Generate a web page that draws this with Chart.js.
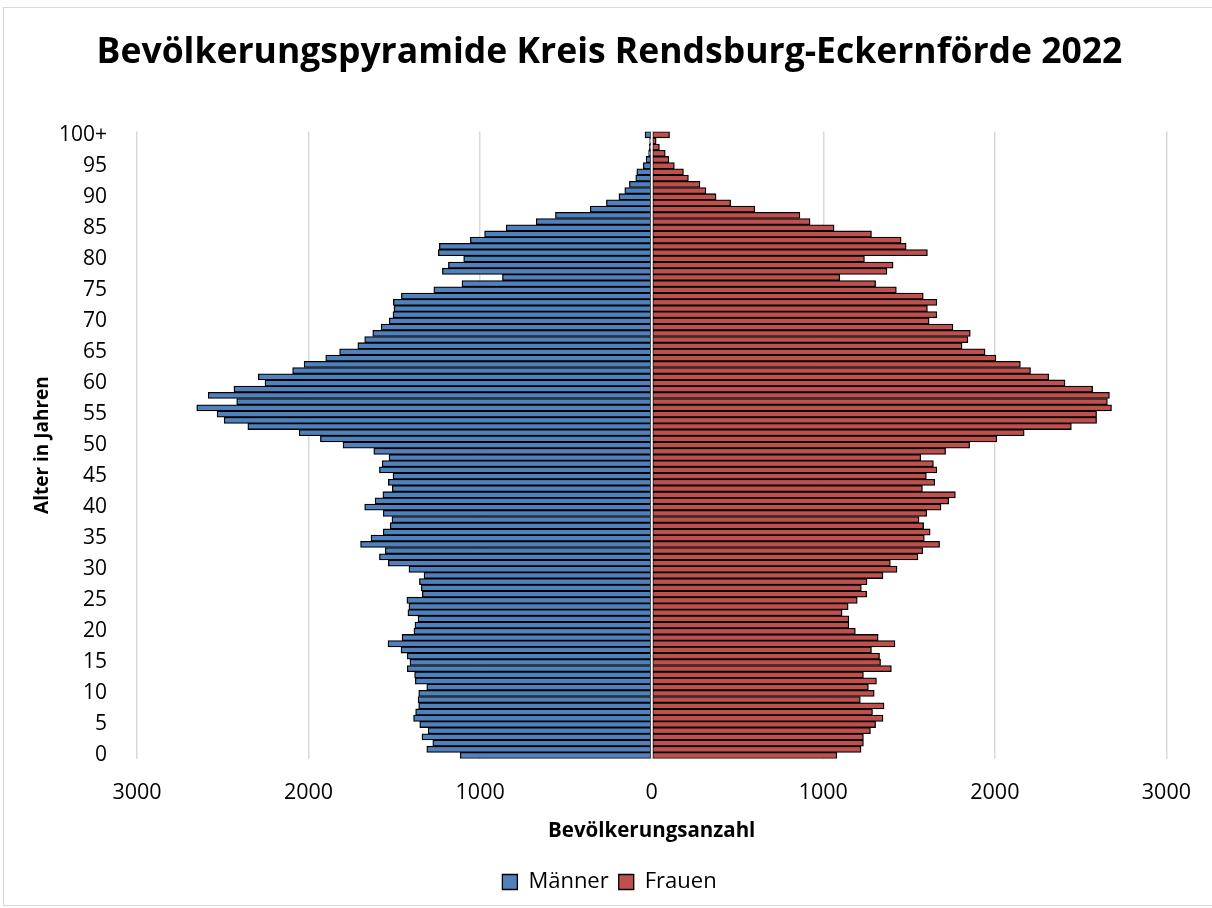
<!DOCTYPE html>
<html lang="de">
<head>
<meta charset="utf-8">
<title>Bevölkerungspyramide Kreis Rendsburg-Eckernförde 2022</title>
<script src="https://cdn.jsdelivr.net/npm/chart.js@4.4.1/dist/chart.umd.min.js"></script>
<style>
  html, body { margin: 0; padding: 0; background: #fff; }
  #wrap { position: relative; width: 1212px; height: 908px; overflow: hidden; }
  #frame { position: absolute; left: 3px; top: 7px; width: 1220px; height: 897px;
           border: 1.5px solid #d9d9d9; pointer-events: none; }
  canvas { position: absolute; left: 0; top: 0; }
</style>
</head>
<body>
<div id="wrap">
  <div id="frame"></div>
  <canvas id="pyramid" width="1212" height="908"></canvas>
</div>
<script>
// Altersgruppen 0 .. 99 und 100+
const ages = Array.from({ length: 100 }, (_, i) => String(i)).concat(["100+"]);

// Männer, Alter 0 bis 100+
const maenner = [
  1116, 1311, 1276, 1339, 1303, 1352, 1388, 1376, 1358, 1362,
  1358, 1311, 1378, 1382, 1425, 1409, 1425, 1461, 1537, 1455,
  1386, 1380, 1362, 1421, 1415, 1427, 1337, 1343, 1354, 1327,
  1415, 1535, 1587, 1553, 1697, 1636, 1565, 1524, 1514, 1565,
  1673, 1612, 1567, 1512, 1535, 1508, 1587, 1571, 1531, 1620,
  1799, 1931, 2055, 2354, 2492, 2533, 2652, 2419, 2585, 2435,
  2254, 2293, 2093, 2026, 1900, 1819, 1713, 1673, 1626, 1577,
  1530, 1508, 1502, 1506, 1459, 1270, 1106, 870, 1220, 1185,
  1096, 1244, 1238, 1057, 974, 848, 673, 561, 358, 264,
  191, 157, 130, 93, 87, 49, 33, 18, 14, 12,
  39
];

// Frauen, Alter 0 bis 100+
const frauen = [
  1079, 1220, 1234, 1234, 1275, 1305, 1348, 1287, 1354, 1216,
  1297, 1263, 1310, 1234, 1397, 1334, 1328, 1281, 1418, 1320,
  1187, 1149, 1149, 1110, 1145, 1198, 1253, 1222, 1255, 1348,
  1430, 1391, 1552, 1580, 1678, 1589, 1623, 1585, 1558, 1603,
  1686, 1731, 1770, 1578, 1650, 1601, 1662, 1642, 1568, 1713,
  1853, 2012, 2171, 2446, 2593, 2593, 2680, 2656, 2668, 2570,
  2409, 2314, 2208, 2149, 2006, 1943, 1809, 1843, 1857, 1756,
  1617, 1662, 1607, 1662, 1583, 1426, 1305, 1096, 1371, 1407,
  1240, 1607, 1483, 1454, 1281, 1063, 923, 864, 601, 460,
  375, 316, 281, 214, 185, 132, 100, 79, 45, 26,
  104
];

const xTicks = [-3000, -2000, -1000, 0, 1000, 2000, 3000];

const FONT = "'Open Sans', 'Noto Sans', sans-serif";

// weisse Linie bei 0 über den Balken
const zeroLine = {
  id: "zeroLine",
  afterDatasetsDraw(chart) {
    const { ctx, chartArea, scales } = chart;
    const x = scales.x.getPixelForValue(0);
    ctx.save();
    ctx.strokeStyle = "#ffffff";
    ctx.lineWidth = 2;
    ctx.beginPath();
    ctx.moveTo(x, chartArea.top);
    ctx.lineTo(x, chartArea.bottom);
    ctx.stroke();
    ctx.restore();
  }
};

new Chart(document.getElementById("pyramid"), {
  type: "bar",
  data: {
    labels: ages,
    datasets: [
      {
        label: "Männer",
        data: maenner.map(v => -v),
        backgroundColor: "#4f81bd",
        borderColor: "#000000",
        borderWidth: 1.3,
        borderSkipped: false,
        barPercentage: 1,
        categoryPercentage: 1
      },
      {
        label: "Frauen",
        data: frauen,
        backgroundColor: "#c0504d",
        borderColor: "#000000",
        borderWidth: 1.3,
        borderSkipped: false,
        barPercentage: 1,
        categoryPercentage: 1
      }
    ]
  },
  options: {
    indexAxis: "y",
    responsive: false,
    animation: false,
    layout: { padding: { left: 24, right: 17, top: 0, bottom: 5 } },
    plugins: {
      title: {
        display: true,
        text: "Bevölkerungspyramide Kreis Rendsburg-Eckernförde 2022",
        color: "#000",
        font: { family: FONT, size: 35.5, weight: "bold" },
        padding: { top: 32, bottom: 57 }
      },
      legend: {
        position: "bottom",
        labels: {
          color: "#000",
          font: { family: FONT, size: 22 },
          boxWidth: 15,
          boxHeight: 15,
          padding: 10
        }
      },
      tooltip: { enabled: false }
    },
    scales: {
      x: {
        stacked: true,
        min: -3000,
        max: 3000,
        afterBuildTicks: (scale) => { scale.ticks = xTicks.map(v => ({ value: v })); },
        ticks: {
          color: "#000",
          font: { family: FONT, size: 21.5 },
          padding: 21,
          callback: (v) => Math.abs(v)
        },
        grid: {
          color: "#d9d9d9",
          lineWidth: 1.5,
          drawTicks: false
        },
        border: { display: false },
        title: {
          display: true,
          text: "Bevölkerungsanzahl",
          color: "#000",
          font: { family: FONT, size: 20.5, weight: "bold" },
          padding: { top: -8, bottom: 18 }
        }
      },
      y: {
        stacked: true,
        reverse: true,
        afterFit: (scale) => { scale.width = 113; },
        ticks: {
          color: "#000",
          font: { family: FONT, size: 21 },
          autoSkip: false,
          padding: 30,
          callback: (v, i) => (i % 5 === 0 ? ages[i] : "")
        },
        grid: { display: false, drawTicks: false },
        border: { display: false },
        title: {
          display: true,
          text: "Alter in Jahren",
          color: "#000",
          font: { family: FONT, size: 19, weight: "bold" },
          padding: { top: 7, bottom: 0 }
        }
      }
    }
  },
  plugins: [zeroLine]
});
</script>
</body>
</html>
